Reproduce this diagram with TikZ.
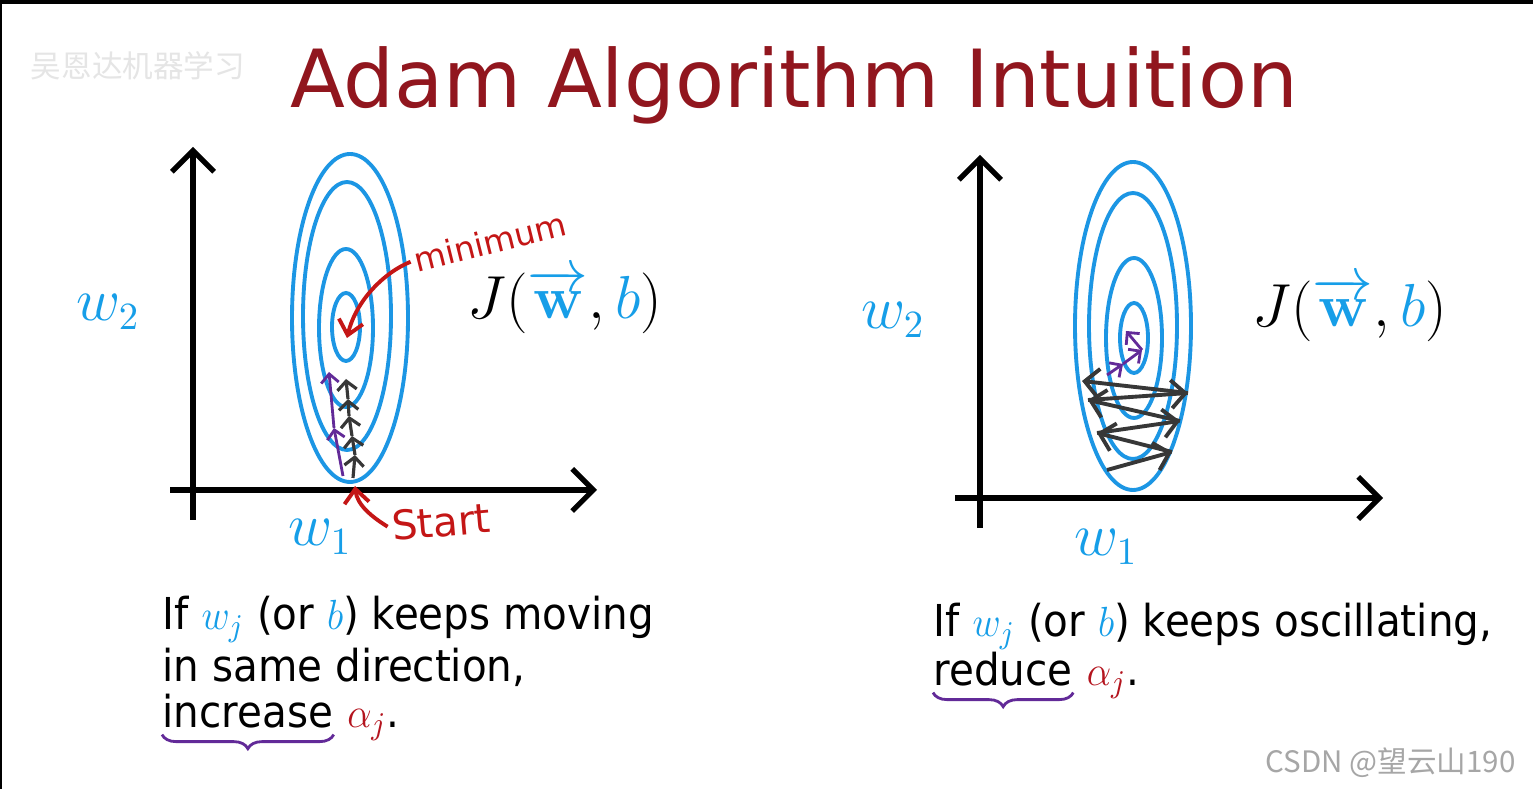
\documentclass[tikz,border=0pt]{standalone}
\usepackage{amsmath}
\usepackage[no-math]{fontspec}
\setmainfont{DejaVu Sans}
\newfontfamily\cjkfont{Noto Sans CJK SC}
\usetikzlibrary{arrows.meta,decorations.pathreplacing}

\definecolor{rojoTitulo}{RGB}{145,22,30}
\definecolor{azulCurva}{RGB}{28,150,228}
\definecolor{azulTexto}{RGB}{22,158,232}
\definecolor{rojoMano}{RGB}{196,22,22}
\definecolor{rojoAlfa}{RGB}{180,20,30}
\definecolor{morado}{RGB}{98,42,152}
\definecolor{grisFlecha}{RGB}{55,55,55}

\tikzset{
  eje/.style={line width=1.5pt, -{Straight Barb[length=6pt,width=12pt]}},
  contorno/.style={azulCurva, line width=1.1pt},
  paso/.style={grisFlecha, line width=0.9pt, -{Straight Barb[length=2.5pt,width=5.5pt]}},
  vaiven/.style={grisFlecha, line width=1.1pt, -{Straight Barb[length=4pt,width=8pt]}},
  pasoAdam/.style={morado, line width=0.8pt, -{Straight Barb[length=2.5pt,width=5pt]}},
  nota/.style={rojoMano, inner sep=1pt, font=\fontsize{9.3}{11}\selectfont},
  flechaNota/.style={rojoMano, line width=1.1pt, -{Straight Barb[length=4pt,width=7pt]}},
  texto/.style={anchor=base west, inner sep=0pt, xscale=0.92, font=\fontsize{12.5}{15}\selectfont},
  llave/.style={morado, line width=0.8pt, decorate, decoration={brace, mirror, amplitude=4pt}},
  peso/.style={azulTexto, font=\fontsize{16}{18}\selectfont},
  coste/.style={inner sep=0pt, font=\fontsize{17}{20}\selectfont}
}

\begin{document}
\begin{tikzpicture}[x=0.01cm, y=-0.01cm]
  % Fondo y marco
  \useasboundingbox (0,0) rectangle (1533,789);
  \fill[white] (0,0) rectangle (1533,789);
  \fill[black] (0,0) rectangle (1533,4);
  \fill[black] (0,0) rectangle (2,789);

  % Titulo
  \node[rojoTitulo, anchor=base, inner sep=0pt, font=\fontsize{22.8}{26}\selectfont] (titulo) at (794,108) {Adam Algorithm Intuition};

  % Marcas de agua
  \node[black!10, font=\cjkfont\fontsize{8.7}{10}\selectfont] (marcaSup) at (138,66) {吴恩达机器学习};
  \node[black!35, anchor=east, font=\cjkfont\fontsize{8.4}{10}\selectfont] (marcaInf) at (1528,763) {CSDN @望云山190};

  % ---- Panel izquierdo: misma direccion ----
  % Ejes
  \coordinate (ejeY1a) at (193,520);
  \coordinate (ejeY1b) at (193,147);
  \coordinate (ejeX1a) at (170,490);
  \coordinate (ejeX1b) at (597,490);
  \draw[eje] (ejeY1a) -- (ejeY1b);
  \draw[eje] (ejeX1a) -- (ejeX1b);

  % Curvas de nivel
  \draw[contorno] (350,318) ellipse [x radius=58, y radius=164];
  \draw[contorno] (347,316) ellipse [x radius=44, y radius=134];
  \draw[contorno] (346,328) ellipse [x radius=27, y radius=79];
  \draw[contorno] (346,327) ellipse [x radius=14, y radius=34];

  % Pasos del descenso (negro) y de Adam (morado)
  \draw[paso] (353,478) -- (355,455);
  \draw[paso] (355,455) -- (352,436);
  \draw[paso] (352,436) -- (349,416);
  \draw[paso] (349,416) -- (348,399);
  \draw[paso] (348,399) -- (346,379);
  \draw[pasoAdam] (343,476) -- (334,428);
  \draw[pasoAdam] (334,428) -- (329,372);

  % Etiquetas
  \node[peso] (w2izq) at (108,312) {$w_2$};
  \node[peso] (w1izq) at (320,537) {$w_1$};
  \node[coste] (Jizq) at (565,301) {$J(\textcolor{azulTexto}{\overrightarrow{\mathbf{w}}},\textcolor{azulTexto}{b})$};

  % Notas a mano
  \node[nota, rotate=14] (txtMinimo) at (490,242) {minimum};
  \node[nota, rotate=5, font=\fontsize{11.5}{13}\selectfont] (txtStart) at (441,522) {Start};
  \coordinate (minimo) at (347,338);
  \coordinate (inicio) at (355,486);
  \draw[flechaNota] (txtMinimo.west) .. controls (385,272) and (356,300) .. (minimo);
  \draw[flechaNota] (txtStart.west) .. controls (372,517) and (357,505) .. (inicio);

  % Texto inferior
  \node[texto] (izqL1) at (162,630) {If $\textcolor{azulTexto}{w_j}$ (or $\textcolor{azulTexto}{b}$) keeps moving};
  \node[texto] (izqL2) at (162,682) {in same direction,};
  \node[texto] (izqL3) at (162,728) {increase};
  \node[texto] (izqAlfa) at (izqL3.base east) {\ $\textcolor{rojoAlfa}{\alpha_j}$.};
  \draw[llave] ([yshift=-1.5pt]izqL3.south west) -- ([yshift=-1.5pt]izqL3.south east);

  % ---- Panel derecho: oscilacion ----
  % Ejes
  \coordinate (ejeY2a) at (980,528);
  \coordinate (ejeY2b) at (980,155);
  \coordinate (ejeX2a) at (955,498);
  \coordinate (ejeX2b) at (1383,498);
  \draw[eje] (ejeY2a) -- (ejeY2b);
  \draw[eje] (ejeX2a) -- (ejeX2b);

  % Curvas de nivel
  \draw[contorno] (1133,326) ellipse [x radius=58, y radius=164];
  \draw[contorno] (1133,326) ellipse [x radius=44, y radius=133];
  \draw[contorno] (1134,338) ellipse [x radius=28, y radius=80];
  \draw[contorno] (1134,338) ellipse [x radius=14, y radius=35];

  % Zigzag del descenso
  \draw[vaiven] (1107,470) -- (1172,452);
  \draw[vaiven] (1172,452) -- (1097,433);
  \draw[vaiven] (1097,433) -- (1180,421);
  \draw[vaiven] (1180,421) -- (1088,400);
  \draw[vaiven] (1088,400) -- (1188,393);
  \draw[vaiven] (1188,393) -- (1082,381);

  % Pasos de Adam
  \draw[pasoAdam] (1107,375) -- (1123,364);
  \draw[pasoAdam] (1123,364) -- (1142,350);
  \draw[pasoAdam] (1142,350) -- (1126,331);

  % Etiquetas
  \node[peso] (w2der) at (893,320) {$w_2$};
  \node[peso] (w1der) at (1106,547) {$w_1$};
  \node[coste] (Jder) at (1350,309) {$J(\textcolor{azulTexto}{\overrightarrow{\mathbf{w}}},\textcolor{azulTexto}{b})$};

  % Texto inferior
  \node[texto] (derL1) at (933,637) {If $\textcolor{azulTexto}{w_j}$ (or $\textcolor{azulTexto}{b}$) keeps oscillating,};
  \node[texto] (derL2) at (933,686) {reduce};
  \node[texto] (derAlfa) at (derL2.base east) {\ $\textcolor{rojoAlfa}{\alpha_j}$.};
  \draw[llave] ([yshift=-1.5pt]derL2.south west) -- ([yshift=-1.5pt]derL2.south east);
\end{tikzpicture}
\end{document}
